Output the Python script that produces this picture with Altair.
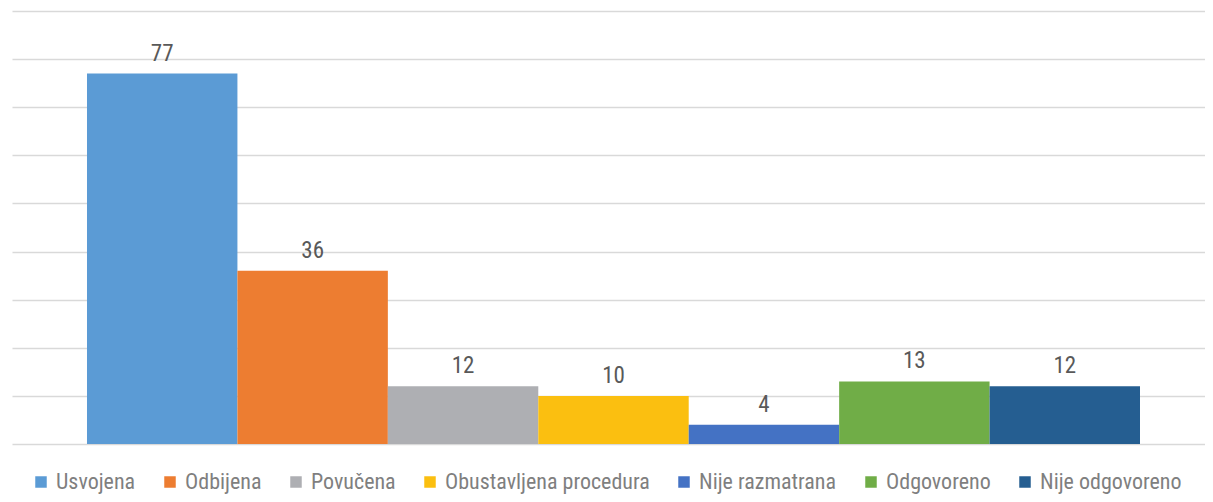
import altair as alt
import pandas as pd

categories = ["Usvojena", "Odbijena", "Povučena", "Obustavljena procedura",
              "Nije razmatrana", "Odgovoreno", "Nije odgovoreno"]
values = [77, 36, 12, 10, 4, 13, 12]
colors = ["#5B9BD5", "#ED7D31", "#AEAFB3", "#FBBF10", "#4472C4", "#70AD47", "#255E91"]

df = pd.DataFrame({"kategorija": categories, "broj": values})

FONT = "Liberation Sans Narrow, Roboto Condensed, Roboto"

x = alt.X("kategorija:N", sort=categories,
          scale=alt.Scale(paddingInner=0, paddingOuter=0.4653, align=0.5357), axis=None)
y = alt.Y("broj:Q", scale=alt.Scale(domain=[0, 90]),
          axis=alt.Axis(values=list(range(0, 91, 10)), labels=False, ticks=False,
                        domain=False, title=None, grid=True,
                        gridColor="#d9d9d9", gridWidth=1.5))

bars = alt.Chart(df).mark_bar().encode(
    x=x, y=y,
    color=alt.Color("kategorija:N", sort=categories,
                    scale=alt.Scale(domain=categories, range=colors),
                    legend=alt.Legend(orient="none", legendX=18, legendY=460,
                                      direction="horizontal",
                                      title=None, symbolType="square",
                                      symbolSize=132, symbolStrokeWidth=0,
                                      labelFont=FONT, labelFontSize=22,
                                      labelColor="#7f7f7f", columns=7,
                                      columnPadding=23, symbolOffset=0,
                                      labelOffset=4, labelLimit=400)),
)

labels = alt.Chart(df).mark_text(baseline="alphabetic", dy=-13, font=FONT,
                                 fontSize=23, color="#595959").encode(
    x=x, y=alt.Y("broj:Q"), text="broj:Q")

chart = (bars + labels).properties(
    width=1193, height=433,
    autosize=alt.AutoSizeParams(type="none"),
    padding={"left": 4, "top": 3, "right": 0, "bottom": 50},
).configure_view(stroke=None)

chart.save("out.html", embed_options={"renderer": "svg", "actions": False})
